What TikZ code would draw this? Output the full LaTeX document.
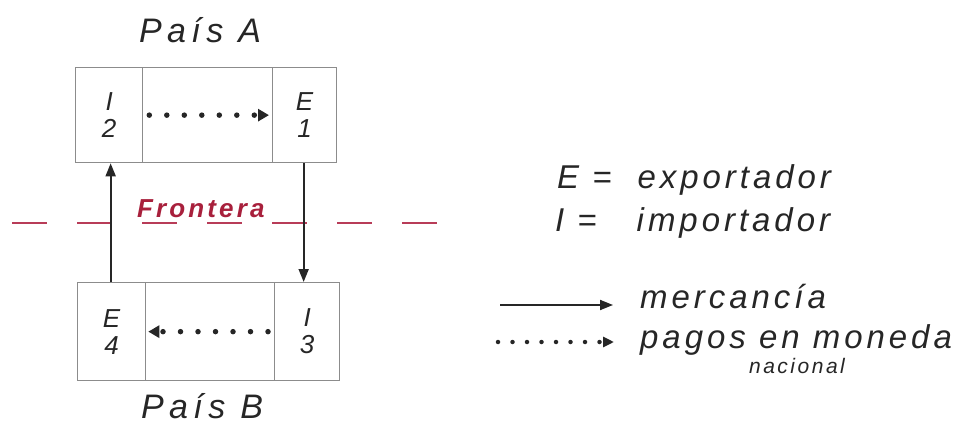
\documentclass[tikz,border=0pt]{standalone}
\usepackage{fontspec}
\setmainfont{Liberation Sans}
\newfontfamily\hand{Liberation Sans}[LetterSpace=12]
\newfontfamily\handwide{Liberation Sans}[LetterSpace=16]
\usetikzlibrary{arrows.meta}
\definecolor{ink}{HTML}{262626}
\definecolor{boxgray}{HTML}{8C8C8C}
\definecolor{redink}{HTML}{A8203C}
\definecolor{reddash}{HTML}{B83C58}
\begin{document}
\begin{tikzpicture}[x=1pt,y=-1pt,
  cell/.style={draw=boxgray,line width=1.3pt,inner sep=0pt,anchor=north west,
    font=\hand\itshape\fontsize{26}{27}\selectfont,text=ink,align=center},
  title/.style={font=\handwide\itshape\fontsize{34}{34}\selectfont,text=ink,inner sep=0pt},
  legend/.style={font=\hand\itshape\fontsize{33}{33}\selectfont,text=ink,inner sep=0pt,anchor=base west},
  goods/.style={draw=ink,line width=1.8pt,-{Triangle[length=13pt,width=10pt]}},
  pay/.style={draw=ink,line width=5.5pt,line cap=round,dash pattern=on 0pt off 17.5pt,
    -{Triangle[length=11pt,width=12pt]}},
  paysmall/.style={draw=ink,line width=4.5pt,line cap=round,dash pattern=on 0pt off 14.5pt,
    -{Triangle[length=11pt,width=10pt]}},
  border/.style={draw=reddash,line width=2.5pt,dash pattern=on 35pt off 30pt}
]
\useasboundingbox (0,0) rectangle (972,425);
% Pais A
\node[title,anchor=base] (paisA) at (200,43) {País A};
\node[cell,minimum width=67pt,minimum height=95pt] (I2) at (75,67) {I\\2};
\node[cell,minimum width=130pt,minimum height=95pt] (midA) at (142,67) {};
\node[cell,minimum width=64pt,minimum height=95pt] (E1) at (272,67) {E\\1};
% Pais B
\node[cell,minimum width=68pt,minimum height=98pt] (E4) at (77,282) {E\\4};
\node[cell,minimum width=129pt,minimum height=98pt] (midB) at (145,282) {};
\node[cell,minimum width=65pt,minimum height=98pt] (I3) at (274,282) {I\\3};
\node[title,anchor=base] (paisB) at (202,418) {País B};
% border line
\coordinate (bl) at (12,223);
\coordinate (br) at (440,223);
\draw[border] (bl) -- (br);
\node[font=\hand\itshape\bfseries\fontsize{26}{26}\selectfont,text=redink,inner sep=0pt,anchor=base west] (front) at (137,217) {Frontera};
% goods arrows
\draw[goods] ([xshift=-1pt]E1.south) -- ([xshift=-1pt]E1.south |- I3.north);
\draw[goods] ([xshift=-1pt]E4.north) -- ([xshift=-1pt]E4.north |- I2.south);
% payment arrows
\draw[pay] ([xshift=6pt]I2.east) -- ([xshift=-3pt]E1.west);
\draw[pay] ([xshift=-6pt]I3.west) -- ([xshift=2pt]E4.east);
% legend
\node[legend] (lE) at (557,189) {E =\hspace{26pt}exportador};
\node[legend] (lI) at (555,231) {I =\hspace{40pt}importador};
\coordinate (g1) at (500,305);
\coordinate (g2) at (613,305);
\draw[goods] (g1) -- (g2);
\node[legend] (lm) at (640,308) {mercancía};
\coordinate (p1) at (498,342);
\coordinate (p2) at (614,342);
\draw[paysmall] (p1) -- (p2);
\node[legend] (lp) at (640,348) {pagos en moneda};
\node[font=\hand\itshape\fontsize{21}{21}\selectfont,text=ink,inner sep=0pt,anchor=base] (ln) at (797,373) {nacional};
\end{tikzpicture}
\end{document}
